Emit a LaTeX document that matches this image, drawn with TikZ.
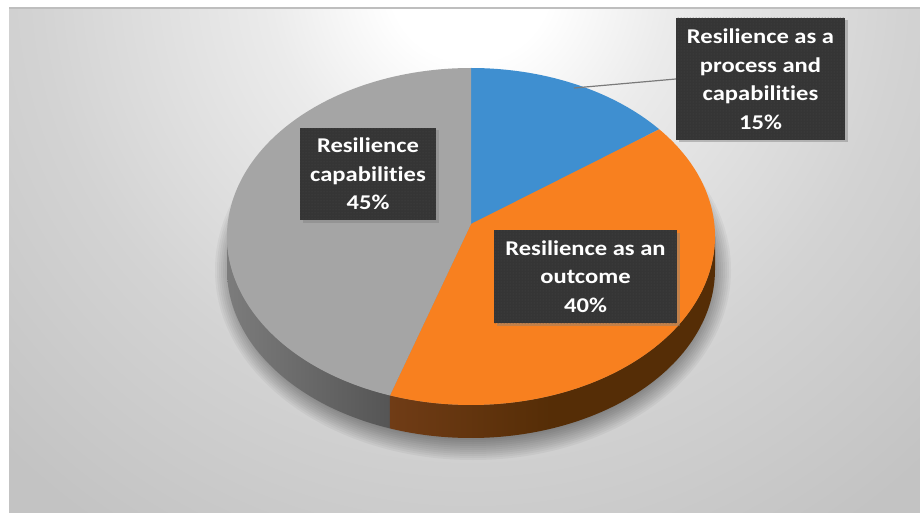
\documentclass[tikz,border=0pt]{standalone}
\usepackage{fontspec}
\newfontfamily\lblfont[FakeStretch=1.17,Ligatures=NoCommon]{Carlito}
\usetikzlibrary{shadows,patterns,calc}
\definecolor{blueslice}{HTML}{3F8FD0}
\definecolor{orangeslice}{HTML}{F8801F}
\definecolor{grayslice}{HTML}{A5A5A5}
\definecolor{orangesideA}{HTML}{703C16}
\definecolor{orangesideB}{HTML}{552D06}
\definecolor{graysideA}{HTML}{7C7C7C}
\definecolor{graysideB}{HTML}{555555}
\definecolor{boxfill}{HTML}{353535}
\definecolor{boxdot}{HTML}{4A4A4A}
\definecolor{bgA}{HTML}{EBEBEB}
\definecolor{bgB}{HTML}{D3D3D3}
\definecolor{bgC}{HTML}{C3C3C3}
\definecolor{bgD}{HTML}{BEBEBE}
\definecolor{leader}{HTML}{7A7A7A}
\pgfdeclareradialshading{bgshade}{\pgfpoint{0bp}{0bp}}{color(0bp)=(white); color(2.8bp)=(white); color(7bp)=(bgA); color(15bp)=(bgB); color(23bp)=(bgC); color(50bp)=(bgD)}
\begin{document}
\begin{tikzpicture}[x=1pt,y=-1pt,
  lbl/.style={fill=boxfill, text=white, align=center, inner sep=0pt,
    font=\lblfont\bfseries\fontsize{21}{28.5}\selectfont,
    drop shadow={shadow xshift=2.5pt, shadow yshift=-2.5pt, opacity=0.45},
    postaction={pattern=dots, pattern color=boxdot}},
  er/.style={x radius=244, y radius=168.5}]
\useasboundingbox (0,0) rectangle (920,513);
\fill[white] (0,0) rectangle (920,513);
\begin{scope}
  \clip (9,8) rectangle (920,513);
  \fill[bgD] (9,8) rectangle (920,513);
  \shade[shading=bgshade] (470,-20) circle[radius=720];
\end{scope}
\draw[bgD, line width=1.2] (9,8) -- (920,8);
% soft shadow beneath the pie
\foreach \k in {0,...,11}
  \fill[black, opacity=0.04] (473,270) ellipse[x radius=236+\k*2, y radius=168+\k*2];
% side walls
\coordinate (apex) at (471,224);
\shade[left color=graysideA, right color=graysideB]
  (227,236.5) arc[start angle=180, end angle=109.4, er] -- ++(0,33)
  arc[start angle=109.4, end angle=180, er] -- cycle;
\shade[left color=orangesideA, right color=orangesideB, middle color=orangesideB]
  (715,236.5) arc[start angle=0, end angle=109.4, er] -- ++(0,33)
  arc[start angle=109.4, end angle=0, er] -- cycle;
% top faces
\fill[blueslice] (apex) -- (471,68) arc[start angle=-90, end angle=-39.5, er] -- cycle;
\fill[orangeslice] (apex) -- ($(471,236.5)+(-39.5:244 and 168.5)$) arc[start angle=-39.5, end angle=109.4, er] -- cycle;
\fill[grayslice] (apex) -- ($(471,236.5)+(109.4:244 and 168.5)$) arc[start angle=109.4, end angle=270, er] -- cycle;
% labels
\node[lbl, minimum width=169, minimum height=122] (b1) at (760.5,79)
  {Resilience as a\\process and\\capabilities\\15\%};
\node[lbl, minimum width=136, minimum height=92] (b2) at (368,174)
  {Resilience\\capabilities\\45\%};
\node[lbl, minimum width=183, minimum height=93] (b3) at (585.5,276.5)
  {Resilience as an\\outcome\\40\%};
\coordinate (lead) at (574,88);
\draw[leader, line width=1.2] (lead) -- (b1.west);
\end{tikzpicture}
\end{document}
